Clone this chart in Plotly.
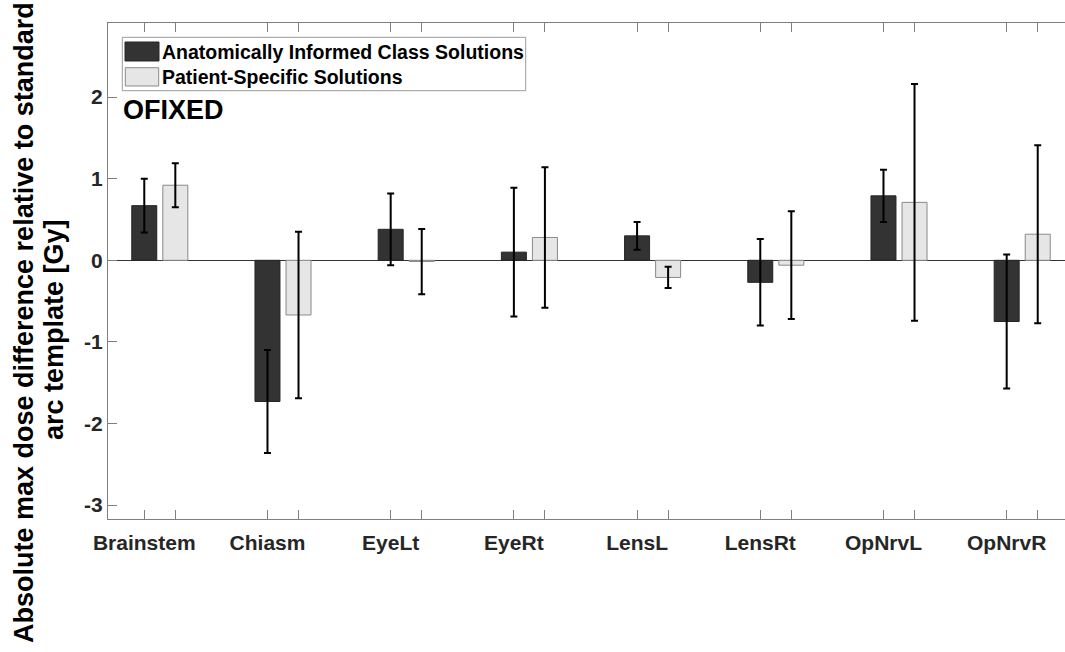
import plotly.graph_objects as go

categories = ["Brainstem", "Chiasm", "EyeLt", "EyeRt", "LensL", "LensRt", "OpNrvL", "OpNrvR"]
class_vals = [0.67, -1.73, 0.38, 0.10, 0.30, -0.27, 0.79, -0.75]
class_err = [0.33, 0.63, 0.44, 0.79, 0.17, 0.53, 0.32, 0.82]
patient_vals = [0.92, -0.67, -0.015, 0.28, -0.21, -0.06, 0.71, 0.32]
patient_err = [0.27, 1.02, 0.40, 0.86, 0.13, 0.66, 1.45, 1.09]
y_ticks = [-3, -2, -1, 0, 1, 2]
series_names = ["Anatomically Informed Class Solutions", "Patient-Specific Solutions"]
panel_label = "OFIXED"
y_title_lines = ["Absolute max dose difference relative to standard", "arc template [Gy]"]

W, H = 1065, 652
ML, MR, MT, MB = 108, 0, 23, 133
PW, PH = W - ML - MR, H - MT - MB

off = 0.126
bw = 0.203
groups = list(range(1, len(categories) + 1))
x_class = [g - off for g in groups]
x_pat = [g + off for g in groups]

DARK = "#333333"
LIGHT = "#e6e6e6"
LIGHT_EDGE = "#8a8a8a"
AX = "#7f7f7f"
TXT = "#262626"

fig = go.Figure()
fig.add_trace(go.Bar(
    x=x_class, y=class_vals, width=bw, name=series_names[0],
    marker=dict(color=DARK, line=dict(color="#262626", width=1)),
    error_y=dict(type="data", array=class_err, visible=True, color="black", thickness=2, width=3.5),
    showlegend=False,
))
fig.add_trace(go.Bar(
    x=x_pat, y=patient_vals, width=bw, name=series_names[1],
    marker=dict(color=LIGHT, line=dict(color=LIGHT_EDGE, width=1)),
    error_y=dict(type="data", array=patient_err, visible=True, color="black", thickness=2, width=3.5),
    showlegend=False,
))

tickvals = []
ticktext = []
for xc, xp, c in zip(x_class, x_pat, categories):
    tickvals += [xc, xp]
    ticktext += [c, ""]

unit_px = 123.2
left = 1 - (144.3 + 15.5 - ML) / unit_px
right = left + PW / unit_px

fig.update_layout(
    width=W, height=H,
    margin=dict(l=ML, r=MR, t=MT, b=MB, pad=0),
    plot_bgcolor="white", paper_bgcolor="white",
    barmode="overlay",
    showlegend=False,
    font=dict(family="Liberation Sans, Arial, sans-serif", color=TXT),
    xaxis=dict(
        range=[left, right], tickvals=tickvals, ticktext=ticktext,
        ticks="inside", ticklen=9, tickcolor=AX, tickwidth=1,
        showline=True, linecolor=AX, linewidth=1, mirror="allticks",
        showgrid=False, zeroline=False, ticklabelstandoff=5,
        tickfont=dict(size=21, color=TXT, weight="bold"),
    ),
    yaxis=dict(
        range=[-3.17, 2.908], tickvals=y_ticks, ticktext=[str(v) for v in y_ticks],
        ticks="inside", ticklen=9, tickcolor=AX, tickwidth=1,
        showline=True, linecolor=AX, linewidth=1, mirror=False,
        showgrid=False, zeroline=True, zerolinecolor="#333333", zerolinewidth=1,
        tickfont=dict(size=21, color=TXT, weight="bold"),
    ),
)

def px2x(px):
    return (px - ML) / PW

def py2y(py):
    return (H - MB - py) / PH

shapes = [
    dict(type="rect", xref="paper", yref="paper",
         x0=px2x(122.3), x1=px2x(525.7), y0=py2y(90.7), y1=py2y(37.3),
         line=dict(color="#9a9a9a", width=1), fillcolor="white", layer="above"),
    dict(type="rect", xref="paper", yref="paper",
         x0=px2x(125), x1=px2x(159), y0=py2y(61), y1=py2y(42),
         line=dict(color="#262626", width=1), fillcolor=DARK, layer="above"),
    dict(type="rect", xref="paper", yref="paper",
         x0=px2x(125.3), x1=px2x(158.7), y0=py2y(86), y1=py2y(67.7),
         line=dict(color=LIGHT_EDGE, width=1), fillcolor=LIGHT, layer="above"),
]
fig.update_layout(shapes=shapes)

annotations = [
    dict(xref="paper", yref="paper", x=px2x(160), y=py2y(51.5), xanchor="left", yanchor="middle",
         text=series_names[0], showarrow=False, font=dict(size=19.5, color="black", weight="bold")),
    dict(xref="paper", yref="paper", x=px2x(160), y=py2y(77), xanchor="left", yanchor="middle",
         text=series_names[1], showarrow=False, font=dict(size=19.5, color="black", weight="bold")),
    dict(xref="paper", yref="paper", x=px2x(121), y=py2y(110), xanchor="left", yanchor="middle",
         text=panel_label, showarrow=False, font=dict(size=27, color="black", weight="bold")),
    dict(xref="paper", yref="paper", x=px2x(24), y=py2y(323), xanchor="center", yanchor="middle",
         text=y_title_lines[0], textangle=-90, showarrow=False,
         font=dict(size=27, color="black", weight="bold")),
    dict(xref="paper", yref="paper", x=px2x(54), y=py2y(330), xanchor="center", yanchor="middle",
         text=y_title_lines[1], textangle=-90, showarrow=False,
         font=dict(size=27, color="black", weight="bold")),
]
fig.update_layout(annotations=annotations)

fig.write_html("out.html")
